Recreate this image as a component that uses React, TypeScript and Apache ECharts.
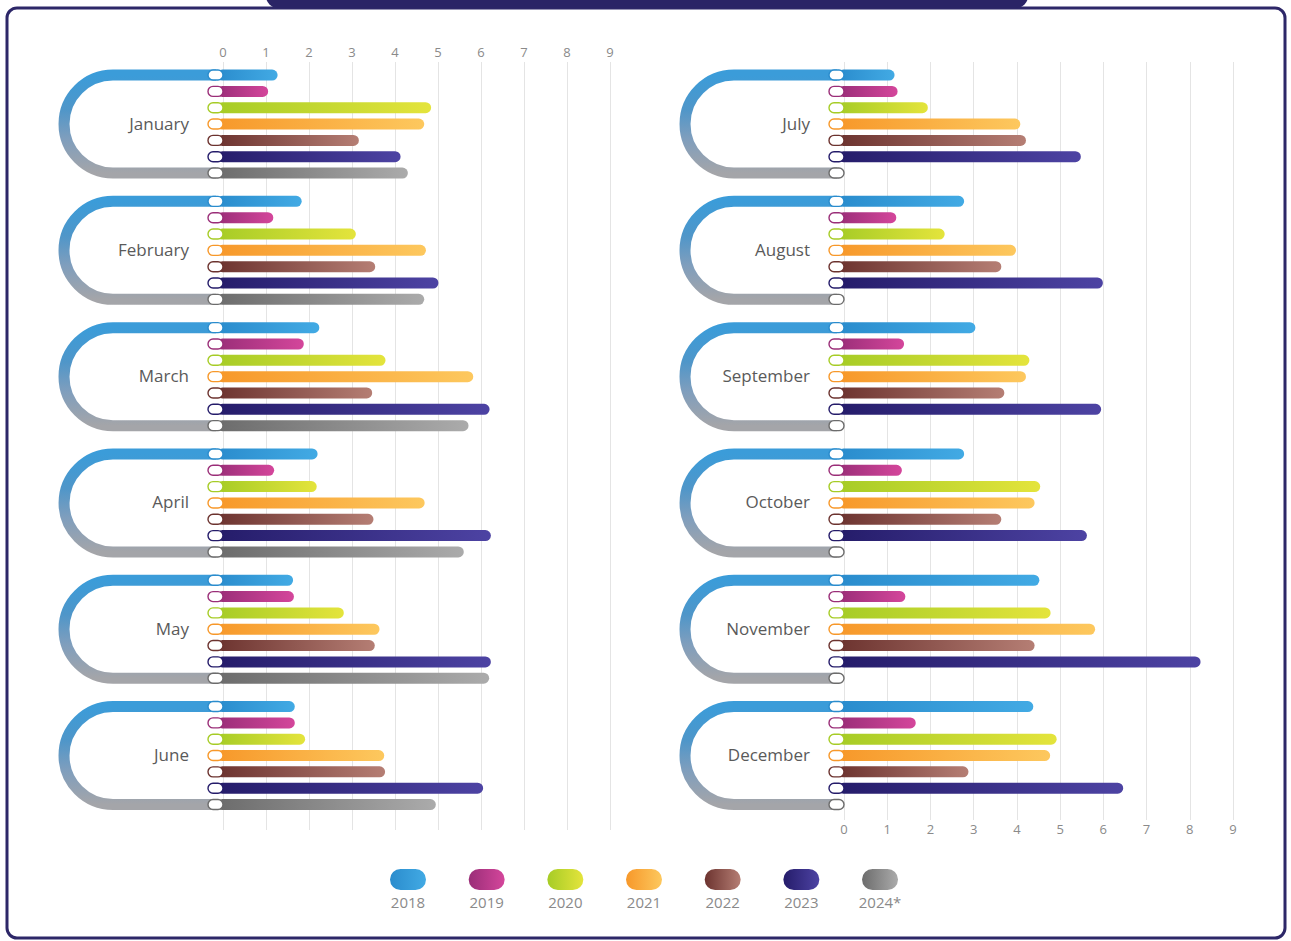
import React, { useEffect, useRef } from "react";
import * as echarts from "echarts";

const YEARS = ["2018", "2019", "2020", "2021", "2022", "2023", "2024*"];
const MONTHS_H1 = ["January", "February", "March", "April", "May", "June"];
const MONTHS_H2 = ["July", "August", "September", "October", "November", "December"];

// values per month, per year (2018..2024*)
const VALUES_H1: (number | null)[][] = [
  [1.27, 1.05, 4.84, 4.68, 3.16, 4.13, 4.3],
  [1.83, 1.17, 3.09, 4.72, 3.54, 5.01, 4.68],
  [2.24, 1.88, 3.78, 5.82, 3.47, 6.2, 5.71],
  [2.2, 1.19, 2.18, 4.69, 3.5, 6.23, 5.6],
  [1.63, 1.65, 2.81, 3.64, 3.53, 6.23, 6.19],
  [1.67, 1.67, 1.91, 3.75, 3.77, 6.05, 4.95],
];
const VALUES_H2: (number | null)[][] = [
  [1.17, 1.24, 1.94, 4.08, 4.21, 5.48, null],
  [2.78, 1.21, 2.33, 3.98, 3.64, 5.99, null],
  [3.04, 1.39, 4.29, 4.21, 3.71, 5.95, null],
  [2.78, 1.34, 4.54, 4.41, 3.64, 5.62, null],
  [4.52, 1.42, 4.78, 5.81, 4.41, 8.25, null],
  [4.38, 1.66, 4.92, 4.77, 2.88, 6.46, null],
];

const X_MIN = 0;
const X_MAX = 9;

const COLORS_DARK = ["#2a8ccd", "#9a2e78", "#a6cc26", "#f7982a", "#6c332f", "#251c6a", "#6c6c6c"];
const COLORS_LIGHT = ["#42aae4", "#d4469b", "#e4e43c", "#fdc85e", "#b57e74", "#4d43a3", "#ababab"];

// layout constants
const ROW_PX = 16.33;
const GROUP_STEP = 7.734;
const GRID_TOP = 62;
const Y_MIN = -0.8;
const BAR_H = 11;

const rowOf = (m: number, y: number) => m * GROUP_STEP + y;

function barData(values: (number | null)[][]) {
  const out: any[] = [];
  values.forEach((arr, m) =>
    arr.forEach((v, y) => {
      if (v !== null) out.push([v, rowOf(m, y), y]);
    })
  );
  return out;
}
function pillData(values: (number | null)[][]) {
  const out: any[] = [];
  values.forEach((arr, m) => arr.forEach((_v, y) => out.push([0, rowOf(m, y), y])));
  return out;
}
function bracketData(months: string[]) {
  return months.map((name, m) => ({ name, value: [0, rowOf(m, 0), rowOf(m, 6)] }));
}

const grad = (i: number) =>
  new echarts.graphic.LinearGradient(0, 0, 1, 0, [
    { offset: 0, color: COLORS_DARK[i] },
    { offset: 1, color: COLORS_LIGHT[i] },
  ]);

function makeSeries(idx: number, months: string[], values: (number | null)[][]) {
  return [
    {
      type: "custom",
      xAxisIndex: idx,
      yAxisIndex: idx,
      z: 1,
      clip: false,
      encode: { x: 0, y: 1 },
      data: bracketData(months),
      renderItem: (params: any, api: any) => {
        const p0 = api.coord([0, api.value(1)]);
        const p1 = api.coord([0, api.value(2)]);
        const r = (p1[1] - p0[1]) / 2;
        const cx = p0[0] - 110;
        const xe = p0[0] - 7;
        const d = `M ${xe} ${p0[1]} L ${cx} ${p0[1]} A ${r} ${r} 0 0 0 ${cx} ${p1[1]} L ${xe} ${p1[1]}`;
        return {
          type: "group",
          children: [
            {
              type: "path",
              shape: { pathData: d },
              style: {
                fill: "none",
                lineWidth: BAR_H,
                stroke: new echarts.graphic.LinearGradient(0, 0, 0, 1, [
                  { offset: 0, color: "#3b9cd9" },
                  { offset: 0.35, color: "#4f96c9" },
                  { offset: 0.65, color: "#7f9ebd" },
                  { offset: 1, color: "#a4a5a9" },
                ]),
              },
            },
            {
              type: "text",
              x: p0[0] - 34,
              y: (p0[1] + p1[1]) / 2 - 1,
              style: {
                text: months[params.dataIndex],
                align: "right",
                verticalAlign: "middle",
                fill: "#5a5a5a",
                font: '17px "Open Sans"',
              },
            },
          ],
        };
      },
    },
    {
      type: "custom",
      xAxisIndex: idx,
      yAxisIndex: idx,
      z: 2,
      clip: false,
      encode: { x: 0, y: 1 },
      data: barData(values),
      renderItem: (_params: any, api: any) => {
        const v = api.value(0);
        const row = api.value(1);
        const yi = api.value(2);
        const s = api.coord([0, row]);
        const e = api.coord([v, row]);
        return {
          type: "rect",
          shape: { x: s[0] - 6, y: s[1] - BAR_H / 2, width: e[0] - s[0] + 6, height: BAR_H, r: BAR_H / 2 },
          style: { fill: grad(yi) },
        };
      },
    },
    {
      type: "custom",
      xAxisIndex: idx,
      yAxisIndex: idx,
      z: 3,
      clip: false,
      encode: { x: 0, y: 1 },
      data: pillData(values),
      renderItem: (_params: any, api: any) => {
        const row = api.value(1);
        const yi = api.value(2);
        const s = api.coord([0, row]);
        return {
          type: "rect",
          shape: { x: s[0] - 15, y: s[1] - 5, width: 15, height: 10, r: 5 },
          style: { fill: "#ffffff", stroke: COLORS_DARK[yi], lineWidth: 1.4 },
        };
      },
    },
  ];
}

export default function App() {
  const ref = useRef<HTMLDivElement>(null);
  useEffect(() => {
    if (!ref.current) return;
    const chart = echarts.init(ref.current, null, { renderer: "svg" });
    const leftH = 768;
    const rightH = 758;
    const xAxisBase = (position: string, margin: number) => ({
      type: "value",
      min: X_MIN,
      max: X_MAX,
      interval: 1,
      position,
      axisLine: { show: false },
      axisTick: { show: false },
      splitLine: { show: true, lineStyle: { color: "#e4e4e4", width: 1 } },
      axisLabel: { color: "#8a8a8a", fontSize: 13, margin, fontFamily: "Open Sans" },
    });
    const legendStep = 78.67;
    const legendX0 = 408;
    const legendGraphics: any[] = [];
    YEARS.forEach((yr, i) => {
      const cx = legendX0 + i * legendStep;
      legendGraphics.push({
        type: "rect",
        shape: { x: cx - 18, y: 869, width: 36, height: 21, r: 10.5 },
        style: { fill: grad(i) },
      });
      legendGraphics.push({
        type: "text",
        x: cx,
        y: 902,
        style: {
          text: yr,
          align: "center",
          verticalAlign: "middle",
          fill: "#8a8a8a",
          font: '15px "Open Sans"',
        },
      });
    });
    chart.setOption({
      animation: false,
      backgroundColor: "#ffffff",
      textStyle: { fontFamily: "Open Sans" },
      grid: [
        { left: 223, width: 387, top: GRID_TOP, height: leftH },
        { left: 844, width: 389, top: GRID_TOP, height: rightH },
      ],
      xAxis: [
        { ...xAxisBase("top", 4), gridIndex: 0 },
        { ...xAxisBase("bottom", 2), gridIndex: 1 },
      ],
      yAxis: [
        { type: "value", gridIndex: 0, inverse: true, show: false, min: Y_MIN, max: Y_MIN + leftH / ROW_PX },
        { type: "value", gridIndex: 1, inverse: true, show: false, min: Y_MIN, max: Y_MIN + rightH / ROW_PX },
      ],
      graphic: [
        {
          type: "rect",
          z: -1,
          shape: { x: 7, y: 8, width: 1278, height: 930, r: 10 },
          style: { fill: "#ffffff", stroke: "#2d2768", lineWidth: 3 },
        },
        {
          type: "rect",
          z: 0,
          shape: { x: 266, y: -22, width: 762, height: 30, r: 12 },
          style: { fill: "#2a2466" },
        },
        ...legendGraphics,
      ],
      series: [...makeSeries(0, MONTHS_H1, VALUES_H1), ...makeSeries(1, MONTHS_H2, VALUES_H2)],
    });
    return () => chart.dispose();
  }, []);
  return (
    <div
      ref={ref}
      style={{ position: "absolute", left: 0, top: 0, width: 1291, height: 941 }}
    />
  );
}
